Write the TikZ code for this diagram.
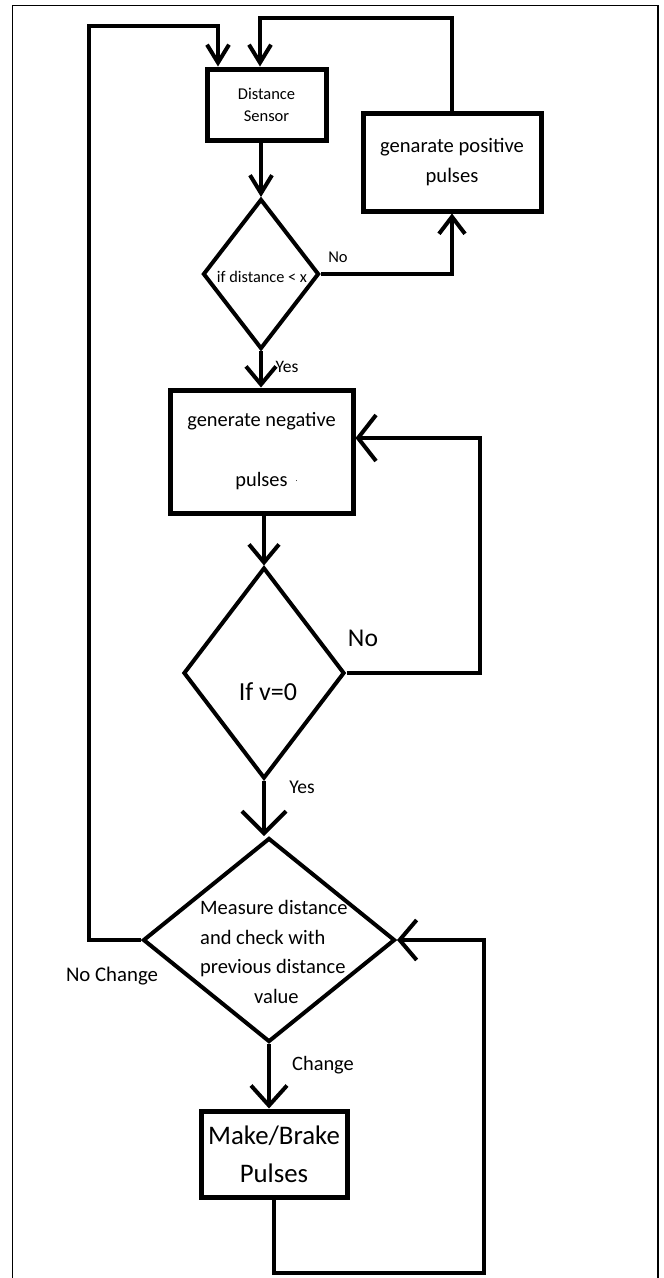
\documentclass[tikz,border=0pt]{standalone}
\usepackage{fontspec}
\setmainfont{Carlito}
\usetikzlibrary{arrows.meta,shapes.geometric,calc}
\begin{document}
\begin{tikzpicture}[x=1pt,y=-1pt,
  box/.style={draw, line width=5pt, inner sep=0pt, align=center},
  dia/.style={draw, diamond, line width=4pt, inner sep=0pt},
  conn/.style={line width=4pt},
  ar/.style 2 args={conn, -{Straight Barb[length=#1,width=#2]}},
  lbl/.style={inner sep=0pt, anchor=center}]
\useasboundingbox (0,0) rectangle (664,1278);
% frame
\draw[line width=1.5pt] (12.7,1285) -- (12.7,5.3) -- (658,5.3) -- (658,1285);

% nodes
\node[box, minimum width=119pt, minimum height=71pt, font=\fontsize{16.5}{22}\selectfont] (ds) at (266.5,104.5) {Distance\\Sensor};
\node[box, minimum width=178pt, minimum height=98pt, font=\fontsize{20.6}{30}\selectfont] (gp) at (452,162) {genarate positive\\pulses};
\node[dia, minimum width=116pt, minimum height=150pt] (d1) at (261,274) {};
\node[lbl, font=\fontsize{16.3}{20}\selectfont] (t1) at (262,277) {if distance < x};
\node[box, minimum width=183pt, minimum height=123pt, font=\fontsize{20.4}{24}\selectfont] (gn) at (261.5,451.5) {generate negative\\[36pt]pulses\rlap{\hspace{8pt}\raisebox{5pt}{\fontsize{8}{8}\selectfont .}}};
\node[dia, minimum width=161pt, minimum height=211pt] (d2) at (264,673) {};
\node[lbl, font=\fontsize{26}{30}\selectfont] (t2) at (268,692) {If v=0};
\node[dia, minimum width=252pt, minimum height=204pt] (d3) at (269,940) {};
\node[lbl, font=\fontsize{20.5}{29.7}\selectfont, align=left, anchor=west] (t3) at (200,952) {Measure distance\\and check with\\previous distance\\\hspace*{54pt}value};
\node[box, minimum width=146pt, minimum height=86pt, font=\fontsize{26.8}{38}\selectfont] (mb) at (274,1154) {Make/Brake\\Pulses};

% labels
\node[lbl, font=\fontsize{16.5}{20}\selectfont] (no1) at (338,257) {No};
\node[lbl, font=\fontsize{17.5}{20}\selectfont] (yes1) at (287,367) {Yes};
\node[lbl, font=\fontsize{25.6}{30}\selectfont] (no2) at (363,638) {No};
\node[lbl, font=\fontsize{19.5}{22}\selectfont] (yes2) at (302,787) {Yes};
\node[lbl, font=\fontsize{20.8}{24}\selectfont] (nochg) at (112,976) {No Change};
\node[lbl, font=\fontsize{20.4}{24}\selectfont] (chg) at (323,1065) {Change};

% bend points
\coordinate (rt) at (260,18);
\coordinate (lt1) at (89,26);
\coordinate (lt2) at (218,26);
\coordinate (rr) at (480,438);
\coordinate (bb) at (484,1273);

% connectors
\draw[ar={18pt}{22pt}] (d1.north |- ds.south) -- (d1.north);
\draw[ar={17pt}{26pt}] (d1.east) -| (gp.south);
\draw[ar={18pt}{22pt}] (gp.north) |- (rt) -- (rt |- ds.north);
\draw[ar={18pt}{30pt}] (d1.south) -- (d1.south |- gn.north);
\draw[ar={18pt}{30pt}] (d2.north |- gn.south) -- (d2.north);
\draw[ar={18pt}{46pt}] (d2.east) -| (rr) -- (rr -| gn.east);
\draw[ar={22pt}{44pt}] (d2.south) -- (d2.south |- d3.north);
\draw[ar={18pt}{22pt}] (d3.west) -| (lt1) -- (lt2) -- (lt2 |- ds.north);
\draw[ar={20pt}{36pt}] (d3.south) -- (d3.south |- mb.north);
\draw[ar={17pt}{40pt}] (mb.south) |- (bb) |- (d3.east);
\end{tikzpicture}
\end{document}
